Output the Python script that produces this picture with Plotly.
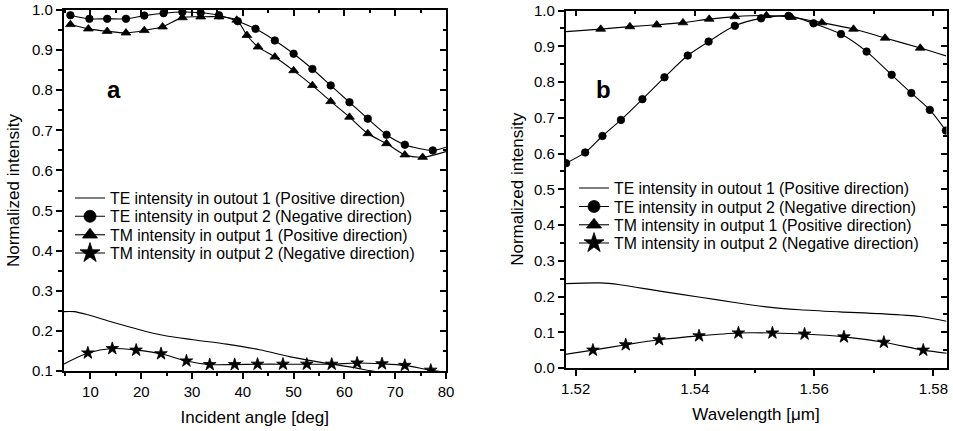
import plotly.graph_objects as go

# ---------------- Panel a : incident angle ----------------
a_te1_x = [4.7, 6.8, 9.5, 13.7, 19.7, 24.3, 30.2, 36.8, 43.3, 49.9, 56.5, 61.7, 65.0, 67.5]
a_te1_y = [0.248, 0.248, 0.240, 0.224, 0.203, 0.189, 0.178, 0.167, 0.153, 0.134, 0.119, 0.109, 0.101, 0.096]

a_te2_x = [6.06, 9.8, 13.3, 17.0, 20.6, 24.4, 28.1, 31.7, 35.3, 39.0, 42.5, 46.3, 50.0, 53.7,
           57.3, 61.0, 64.6, 68.3, 71.9, 77.4, 80.0]
a_te2_y = [0.987, 0.978, 0.978, 0.978, 0.986, 0.992, 0.995, 0.993, 0.987, 0.972, 0.953, 0.924,
           0.891, 0.853, 0.812, 0.770, 0.729, 0.689, 0.664, 0.650, 0.658]

a_tm1_x = [6.06, 9.6, 13.3, 17.0, 20.6, 24.2, 28.1, 31.7, 35.3, 38.8, 40.8, 43.0, 46.3, 50.0,
           53.7, 57.3, 61.0, 64.6, 68.3, 71.9, 75.4, 80.0]
a_tm1_y = [0.964, 0.953, 0.947, 0.943, 0.949, 0.958, 0.981, 0.983, 0.983, 0.975, 0.937, 0.908,
           0.883, 0.849, 0.812, 0.772, 0.733, 0.692, 0.667, 0.639, 0.633, 0.647]

a_tm2_x = [4.7, 9.5, 14.3, 19.0, 23.9, 28.9, 33.5, 38.4, 42.9, 47.9, 52.6, 57.5, 62.5, 67.4,
           71.9, 77.0, 80.0]
a_tm2_y = [0.117, 0.145, 0.156, 0.152, 0.143, 0.125, 0.116, 0.116, 0.117, 0.117, 0.117, 0.117,
           0.120, 0.118, 0.114, 0.102, 0.097]

# ---------------- Panel b : wavelength ----------------
b_te1_x = [1.5182, 1.5241, 1.5274, 1.5341, 1.5409, 1.5464, 1.5520, 1.5576, 1.5643, 1.5711,
           1.5778, 1.5822]
b_te1_y = [0.236, 0.238, 0.233, 0.215, 0.198, 0.184, 0.171, 0.163, 0.157, 0.152, 0.144, 0.131]

b_te2_x = [1.5184, 1.5216, 1.5245, 1.5276, 1.5312, 1.5349, 1.5388, 1.5423, 1.5467, 1.5511,
           1.5557, 1.5599, 1.5645, 1.5688, 1.5730, 1.5763, 1.5794, 1.5821]
b_te2_y = [0.573, 0.603, 0.649, 0.694, 0.752, 0.813, 0.874, 0.913, 0.957, 0.978, 0.985, 0.964,
           0.934, 0.885, 0.820, 0.769, 0.722, 0.664]

b_tm1_x = [1.5184, 1.5242, 1.5291, 1.5336, 1.5380, 1.5424, 1.5467, 1.5520, 1.5562, 1.5613,
           1.5666, 1.5719, 1.5778, 1.5821]
b_tm1_y = [0.941, 0.948, 0.955, 0.960, 0.966, 0.976, 0.983, 0.986, 0.981, 0.966, 0.948, 0.923,
           0.895, 0.873]

b_tm2_x = [1.5182, 1.5229, 1.5284, 1.5340, 1.5407, 1.5473, 1.5530, 1.5584, 1.5650, 1.5717,
           1.5783, 1.5825]
b_tm2_y = [0.038, 0.050, 0.065, 0.079, 0.090, 0.098, 0.098, 0.095, 0.087, 0.072, 0.050, 0.041]

names = [
    "TE intensity in outout 1 (Positive direction)",
    "TE intensity in output 2 (Negative direction)",
    "TM intensity in output 1 (Positive direction)",
    "TM intensity in output 2 (Negative direction)",
]

FONT = "Liberation Sans, Arial, sans-serif"
W, H = 953, 431
ML, MR, MT, MB = 0, 0, 10, 60
PH = H - MT - MB


def px2x(px):
    return px / W


def px2y(py):
    return (H - MB - py) / PH


def sizes(n, size, line_start, line_end):
    s = [size] * n
    if line_start:
        s[0] = 0
    if line_end:
        s[-1] = 0
    return s


fig = go.Figure()

series = [
    # panel, name idx, x, y, symbol, size, legend size, line-only start, line-only end
    ("a", 0, a_te1_x, a_te1_y, None, 0, 0, True, True),
    ("a", 1, a_te2_x, a_te2_y, "circle", 7.5, 12, False, True),
    ("a", 2, a_tm1_x, a_tm1_y, "triangle-up", 8.5, 13, False, True),
    ("a", 3, a_tm2_x, a_tm2_y, "star", 9.5, 15, True, True),
    ("b", 0, b_te1_x, b_te1_y, None, 0, 0, True, True),
    ("b", 1, b_te2_x, b_te2_y, "circle", 7.5, 12, False, False),
    ("b", 2, b_tm1_x, b_tm1_y, "triangle-up", 8.5, 13, True, True),
    ("b", 3, b_tm2_x, b_tm2_y, "star", 9.5, 15, True, True),
]

LINE = dict(color="black", width=1.1, shape="spline", smoothing=0.8)

for panel, ni, xs, ys, sym, sz, lsz, ls, le in series:
    axx, axy = ("x", "y") if panel == "a" else ("x2", "y2")
    legid = ni + 1 + (0 if panel == "a" else 4)
    legname = "legend" if legid == 1 else f"legend{legid}"
    if sym is None:
        fig.add_trace(go.Scatter(
            x=xs, y=ys, mode="lines", name=names[ni], line=LINE,
            xaxis=axx, yaxis=axy, legend=legname))
    else:
        fig.add_trace(go.Scatter(
            x=xs, y=ys, mode="lines+markers", name=names[ni], line=LINE, showlegend=False,
            marker=dict(symbol=sym, size=sizes(len(xs), sz, ls, le), color="black", opacity=1,
                        line=dict(width=0.8, color="black")),
            xaxis=axx, yaxis=axy))
        # legend entry (no data of its own) with the larger legend symbol
        fig.add_trace(go.Scatter(
            x=[None], y=[None], mode="lines+markers", name=names[ni],
            line=dict(color="black", width=1.1),
            marker=dict(symbol=sym, size=lsz, color="black", opacity=1,
                        line=dict(width=0.8, color="black")),
            xaxis=axx, yaxis=axy, legend=legname, hoverinfo="skip"))

# empty traces to anchor the mirrored (inside-tick) axes
for ax, ay in [("x3", "y"), ("x", "y3"), ("x4", "y2"), ("x2", "y4")]:
    fig.add_trace(go.Scatter(x=[], y=[], xaxis=ax, yaxis=ay, showlegend=False,
                             hoverinfo="skip"))

tickfont = dict(family=FONT, size=15, color="black")
titlefont = dict(family=FONT, size=17, color="black")

a_dom = [px2x(63.5), px2x(446)]
b_dom = [px2x(565.5), px2x(946.5)]
a_xr = [4.7, 80]
a_yr = [0.1, 1.0]
b_xr = [1.5183, 1.5822]
b_yr = [0.0, 1.0]
b_ydom = [px2y(368), px2y(10.5)]

common = dict(showline=True, linecolor="black", linewidth=1.5, showgrid=False,
              zeroline=False, ticks="outside", ticklen=6, tickwidth=1.5, tickcolor="black",
              tickfont=tickfont, automargin=False)

fig.update_layout(
    xaxis=dict(domain=a_dom, range=a_xr, anchor="y", tick0=10, dtick=10,
               minor=dict(ticks="outside", ticklen=3.5, dtick=5, tickwidth=1.5, tickcolor="black"),
               title=dict(text="Incident angle [deg]", font=titlefont, standoff=12), **common),
    yaxis=dict(domain=[0, 1], range=a_yr, anchor="x", dtick=0.1, tick0=0, tickformat=".1f",
               minor=dict(ticks="outside", ticklen=3.5, dtick=0.05, tickwidth=1.5, tickcolor="black"),
               title=dict(text="Normalized intensity", font=titlefont, standoff=8), **common),
    xaxis2=dict(domain=b_dom, range=b_xr, anchor="y2", tick0=1.52, dtick=0.02, tickformat=".2f",
                minor=dict(ticks="outside", ticklen=3.5, dtick=0.01, tickwidth=1.5, tickcolor="black"),
                title=dict(text="Wavelength [\u03bcm]", font=titlefont, standoff=12), **common),
    yaxis2=dict(domain=b_ydom, range=b_yr, anchor="x2", dtick=0.1, tick0=0, tickformat=".1f",
                minor=dict(ticks="outside", ticklen=3.5, dtick=0.05, tickwidth=1.5, tickcolor="black"),
                title=dict(text="Normalized intensity", font=titlefont, standoff=6), **common),
)

mirror_common = dict(showline=True, linecolor="black", linewidth=1.5, showgrid=False,
                     zeroline=False, ticks="inside", ticklen=6, tickwidth=1.5, tickcolor="black",
                     showticklabels=False)
fig.update_layout(
    xaxis3=dict(overlaying="x", side="top", anchor="y", range=a_xr, tick0=10, dtick=10,
                minor=dict(ticks="inside", ticklen=3.5, dtick=5, tickwidth=1.5, tickcolor="black"),
                **mirror_common),
    yaxis3=dict(overlaying="y", side="right", anchor="x", range=a_yr, dtick=0.1, tick0=0,
                minor=dict(ticks="inside", ticklen=3.5, dtick=0.05, tickwidth=1.5, tickcolor="black"),
                **mirror_common),
    xaxis4=dict(overlaying="x2", side="top", anchor="y2", range=b_xr, tick0=1.52, dtick=0.02,
                minor=dict(ticks="inside", ticklen=3.5, dtick=0.01, tickwidth=1.5, tickcolor="black"),
                **mirror_common),
    yaxis4=dict(overlaying="y2", side="right", anchor="x2", range=b_yr, dtick=0.1, tick0=0,
                minor=dict(ticks="inside", ticklen=3.5, dtick=0.05, tickwidth=1.5, tickcolor="black"),
                **mirror_common),
)

# one legend per row so the rows sit where they do in the original
a_rows = [198.3, 216.5, 235.0, 253.3]
b_rows = [188.3, 206.7, 225.0, 243.3]
legfont = dict(family=FONT, size=15.8, color="black")
for i, ry in enumerate(a_rows + b_rows):
    lx = 70 if i < 4 else 574
    key = "legend" if i == 0 else f"legend{i + 1}"
    fig.update_layout({key: dict(x=px2x(lx), y=px2y(ry), xanchor="left", yanchor="middle",
                                 bgcolor="rgba(0,0,0,0)", borderwidth=0, font=legfont)})

fig.add_annotation(text="<b>a</b>", x=px2x(105), y=px2y(74), xref="paper", yref="paper",
                   showarrow=False, font=dict(family=FONT, size=24, color="black"))
fig.add_annotation(text="<b>b</b>", x=px2x(603), y=px2y(74), xref="paper", yref="paper",
                   showarrow=False, font=dict(family=FONT, size=24, color="black"))

fig.update_layout(width=W, height=H, margin=dict(l=ML, r=MR, t=MT, b=MB, autoexpand=False),
                  paper_bgcolor="white", plot_bgcolor="white", showlegend=True,
                  font=dict(family=FONT, color="black"))

fig.write_html("out.html", config={"displayModeBar": False},
               post_script="document.body.style.margin='0px';document.body.style.padding='0px';")
